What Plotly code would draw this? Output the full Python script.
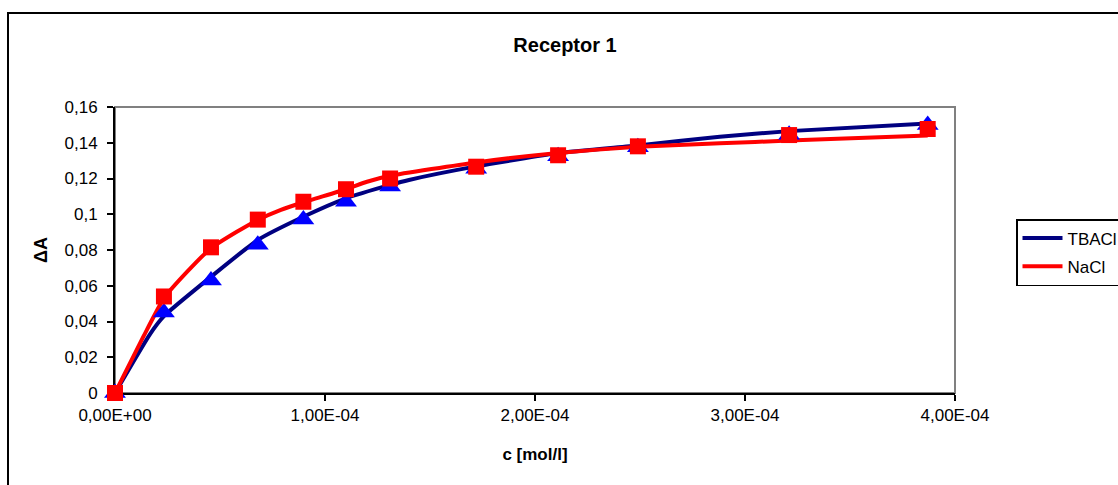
import plotly.graph_objects as go

# ---- data ----
c_points = [0, 2.33e-5, 4.57e-5, 6.8e-5, 8.97e-5, 1.10e-4, 1.31e-4, 1.72e-4,
            2.11e-4, 2.49e-4, 3.21e-4, 3.87e-4]
dA_tbacl_points = [0, 0.045, 0.063, 0.083, 0.097, 0.107, 0.1155, 0.1255,
                   0.1325, 0.1375, 0.1445, 0.150]
dA_nacl_points = [0, 0.054, 0.0815, 0.097, 0.107, 0.114, 0.120, 0.1266,
                  0.133, 0.138, 0.1443, 0.1477]

c_line_tbacl = [0, 1.67e-5, 2.33e-5, 4.57e-5, 6.8e-5, 8.97e-5, 1.10e-4, 1.31e-4,
                1.40e-4, 1.72e-4, 2.11e-4, 2.49e-4, 2.88e-4, 3.21e-4, 3.87e-4]
dA_line_tbacl = [0, 0.033, 0.043, 0.065, 0.0856, 0.0986, 0.1089, 0.1164,
                 0.1192, 0.1268, 0.1342, 0.1385, 0.1434, 0.1465, 0.1507]

c_line_nacl = [0, 1.35e-5, 2.33e-5, 3.45e-5, 4.57e-5, 5.8e-5, 6.8e-5, 7.9e-5,
               8.97e-5, 1.10e-4, 1.20e-4, 1.31e-4, 1.72e-4, 2.11e-4, 2.49e-4,
               2.88e-4, 3.21e-4, 3.87e-4]
dA_line_nacl = [0, 0.0315, 0.053, 0.068, 0.081, 0.0902, 0.0968, 0.1024,
                0.1067, 0.1140, 0.1182, 0.1215, 0.1290, 0.1343, 0.1378,
                0.1397, 0.1412, 0.1440]

x_tickvals = [0, 1e-4, 2e-4, 3e-4, 4e-4]
x_ticktext = ["0,00E+00", "1,00E-04", "2,00E-04", "3,00E-04", "4,00E-04"]
y_tickvals = [0, 0.02, 0.04, 0.06, 0.08, 0.10, 0.12, 0.14, 0.16]
y_ticktext = ["0", "0,02", "0,04", "0,06", "0,08", "0,1", "0,12", "0,14", "0,16"]

series_names = ["TBACl", "NaCl"]
title_text = "Receptor 1"
x_title = "c [mol/l]"
y_title = "ΔA"

# ---- layout geometry ----
W, H = 1118, 485
L, R, T, B = 115, 955, 107, 393
FONT = "Liberation Sans, Arial, sans-serif"


def px(x):
    return (x - L) / (R - L)


def py(y):
    return (B - y) / (B - T)


fig = go.Figure()
fig.add_trace(go.Scatter(x=c_line_tbacl, y=dA_line_tbacl, mode="lines",
                         name=series_names[0], legendgroup="a",
                         line=dict(color="#000080", width=4, shape="spline",
                                   smoothing=0.5)))
fig.add_trace(go.Scatter(x=c_line_nacl, y=dA_line_nacl, mode="lines",
                         name=series_names[1], legendgroup="b",
                         line=dict(color="#FF0000", width=4, shape="spline",
                                   smoothing=0.5)))
fig.add_trace(go.Scatter(x=c_points, y=dA_tbacl_points, mode="markers",
                         showlegend=False, cliponaxis=False,
                         marker=dict(symbol="triangle-up", size=19,
                                     color="#0000FF", line=dict(width=0))))
fig.add_trace(go.Scatter(x=c_points, y=dA_nacl_points, mode="markers",
                         showlegend=False, cliponaxis=False,
                         marker=dict(symbol="square", size=16,
                                     color="#FF0000", line=dict(width=0))))

fig.update_layout(
    width=W, height=H,
    margin=dict(l=L, r=W - R, t=T, b=H - B, autoexpand=False),
    paper_bgcolor="white", plot_bgcolor="white",
    font=dict(family=FONT, size=17, color="black"),
    title=dict(text="<b>%s</b>" % title_text, xref="container", x=565 / W,
               xanchor="center", y=1 - 45 / H, yanchor="middle",
               font=dict(family=FONT, size=20, color="black")),
    xaxis=dict(range=[0, 4e-4], tickvals=x_tickvals, ticktext=x_ticktext,
               showgrid=False, zeroline=False, showline=True, linecolor="black",
               linewidth=2, ticks="outside", ticklen=6, tickwidth=1.5,
               tickcolor="black", layer="below traces",
               title=dict(text="<b>%s</b>" % x_title, standoff=24,
                          font=dict(family=FONT, size=17))),
    yaxis=dict(range=[0, 0.16], tickvals=y_tickvals, ticktext=y_ticktext,
               showgrid=False, zeroline=False, showline=True, linecolor="black",
               linewidth=2, ticks="outside", ticklen=6, tickwidth=1.5,
               tickcolor="black", layer="below traces", ticklabelstandoff=6,
               title=dict(text="<b>%s</b>" % y_title, standoff=12,
                          font=dict(family=FONT, size=18))),
    legend=dict(x=px(1016), y=py(219), xanchor="left", yanchor="top",
                bordercolor="black", borderwidth=1.5, bgcolor="white",
                font=dict(family=FONT, size=17), tracegroupgap=3,
                itemwidth=40),
    shapes=[
        dict(type="rect", xref="paper", yref="paper", x0=0, x1=1, y0=0, y1=1,
             line=dict(color="#808080", width=2), layer="below"),
        dict(type="rect", xref="paper", yref="paper", x0=px(8), x1=px(1140),
             y0=py(520), y1=py(13), line=dict(color="black", width=2),
             layer="below"),
    ],
)

fig.write_html("out.html")
